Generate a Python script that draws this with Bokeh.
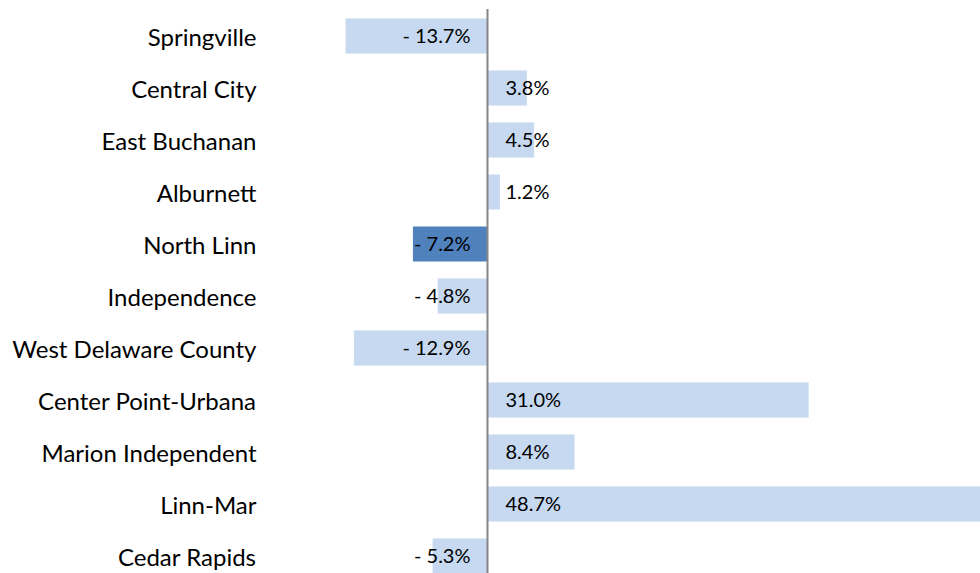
from bokeh.plotting import figure
from bokeh.models import ColumnDataSource, Range1d, FixedTicker
from bokeh.embed import file_html
from bokeh.resources import INLINE
from bokeh.core.properties import value

districts = ["Springville", "Central City", "East Buchanan", "Alburnett", "North Linn",
             "Independence", "West Delaware County", "Center Point-Urbana",
             "Marion Independent", "Linn-Mar", "Cedar Rapids"]
change_pct = [-13.7, 3.8, 4.5, 1.2, -7.2, -4.8, -12.9, 31.0, 8.4, 48.7, -5.3]
highlight = "North Linn"

LIGHT = "#C6D9F1"
DARK = "#4F81BD"

n = len(districts)
ypos = list(range(n))
colors = [DARK if d == highlight else LIGHT for d in districts]
labels = [("- %.1f%%" % abs(v)) if v < 0 else ("%.1f%%" % v) for v in change_pct]

src = ColumnDataSource(dict(y=ypos, v=change_pct, c=colors, lab=labels,
                            zero=[0] * n))
pos = ColumnDataSource(dict(y=[y for y, v in zip(ypos, change_pct) if v >= 0],
                            lab=[l for l, v in zip(labels, change_pct) if v >= 0],
                            zero=[0] * sum(1 for v in change_pct if v >= 0)))
neg = ColumnDataSource(dict(y=[y for y, v in zip(ypos, change_pct) if v < 0],
                            lab=[l for l, v in zip(labels, change_pct) if v < 0],
                            zero=[0] * sum(1 for v in change_pct if v < 0)))

W, H = 980, 573
left_border = 265
px_per_unit = 10.36
zero_px = 487
row_px = 52
first_center = 35.5

x_lo = -(zero_px - left_border) / px_per_unit
x_hi = (W - zero_px) / px_per_unit
y_top = -first_center / row_px
y_bot = (H - first_center) / row_px

p = figure(width=W, height=H, output_backend="svg", toolbar_location=None,
           x_range=Range1d(x_lo, x_hi), y_range=Range1d(y_bot, y_top),
           min_border_left=left_border, min_border_right=0,
           min_border_top=0, min_border_bottom=0)
p.outline_line_color = None
p.grid.visible = False
p.xaxis.visible = False
p.background_fill_color = "white"
p.border_fill_color = "white"

p.hbar(y="y", left="zero", right="v", height=0.67, color="c", line_color=None, source=src)

p.segment(x0=0, x1=0, y0=-0.52, y1=n, line_color="#868686", line_width=2)

p.text(x="zero", y="y", text="lab", source=pos, x_offset=18, y_offset=-1, text_align="left",
       text_baseline="middle", text_font=value("Lato"), text_font_size="20px",
       text_color="#000000")
p.text(x="zero", y="y", text="lab", source=neg, x_offset=-17, y_offset=-1, text_align="right",
       text_baseline="middle", text_font=value("Lato"), text_font_size="20px",
       text_color="#000000")

ax = p.yaxis[0]
ax.ticker = FixedTicker(ticks=ypos)
ax.major_label_overrides = {i: d for i, d in enumerate(districts)}
ax.axis_line_color = None
ax.major_tick_line_color = None
ax.minor_tick_line_color = None
ax.major_tick_out = 0
ax.major_label_standoff = 9
ax.major_label_text_font = "Lato"
ax.major_label_text_font_size = "24px"
ax.major_label_text_color = "#000000"

open("out.html", "w").write(file_html(p, INLINE))
